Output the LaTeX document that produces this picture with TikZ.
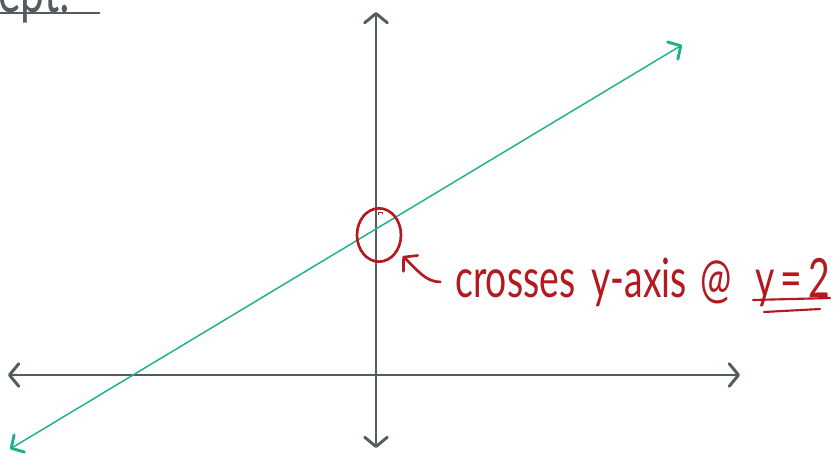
\documentclass[tikz,border=0pt]{standalone}
\usepackage{fontspec}
\setmainfont{Lato}
\usetikzlibrary{arrows.meta, positioning, shapes.geometric}

\definecolor{axisgray}{HTML}{535D5E}
\definecolor{linegreen}{HTML}{20B08C}
\definecolor{inkred}{HTML}{B3191F}
\newcommand{\tallink}[1]{\scalebox{1}[1.45]{#1}}

\begin{document}
\begin{tikzpicture}[
  x=0.75pt, y=-0.75pt,
  axis/.style={draw=axisgray, line width=1.5pt, <->,
               >={Straight Barb[length=7pt, width=17pt, line width=2.2pt, round]}},
  graph/.style={draw=linegreen, line width=1.1pt, <->,
               >={Straight Barb[length=7pt, width=15pt, line width=2.2pt, round]}},
  ink/.style={draw=inkred, line width=2pt, line cap=round},
  note/.style={text=inkred, font=\fontsize{28}{30}\selectfont, inner sep=0pt, anchor=base west},
  ]
  \useasboundingbox (0,0) rectangle (833,454);
  \clip (0,0) rectangle (833,454);

  %% Heading left over from the page above
  \node[text=axisgray, font=\fontsize{32}{34}\selectfont, inner sep=0pt, anchor=base west]
        (hdr) at (-2,12) {\tallink{ept:}};
  \draw[axisgray, line width=1.5pt] (0,12.5) -- (100,12.5);

  %% Axes
  \coordinate (xl) at (8,375);
  \coordinate (xr) at (740,375);
  \coordinate (yt) at (376,12);
  \coordinate (yb) at (376,448);
  \draw[axis] (xl) -- (xr);
  \draw[axis] (yb) -- (yt);

  %% The line
  \coordinate (lo) at (10,449);
  \coordinate (hi) at (682,45);
  \draw[graph] (lo) -- (hi);

  %% Intercept mark and note
  \node[ellipse, ink, minimum width=33pt, minimum height=40pt, inner sep=0pt]
        (icpt) at (379,235) {};
  \draw[inkred, line width=0.7pt] (378,215) -- (378,212) -- (382,212) -- (382,214);

  \node[note] (lbl) at (455,297) {\tallink{crosses\hspace{12pt}y-axis\hspace{10pt}@}};
  \node[note] (val) at (755,297) {\tallink{y\,=\,2}};
  \draw[ink, line width=1.6pt] (753,300) -- (830,298);
  \draw[ink, line width=1.6pt] (764,312) -- (820,309);

  \draw[ink, -{Straight Barb[length=7pt, width=16pt, line width=2pt, round]},
        shorten <=11pt, shorten >=5pt]
        (lbl.west) .. controls +(-30,0) and +(20,18) .. (icpt.-42);
\end{tikzpicture}
\end{document}
